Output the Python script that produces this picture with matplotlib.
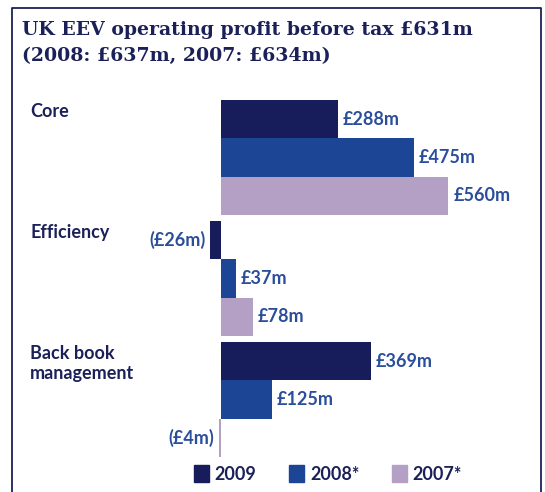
import matplotlib
matplotlib.use("Agg")
import matplotlib.pyplot as plt
from matplotlib.lines import Line2D
from matplotlib.patches import Patch

categories = ["Core", "Efficiency", "Back book\nmanagement"]
years = ["2009", "2008*", "2007*"]
v2009 = [288, -26, 369]
v2008 = [475, 37, 125]
v2007 = [560, 78, -4]
series = [v2009, v2008, v2007]

colors = ["#161d5a", "#1c4595", "#b4a0c5"]
navy = "#1b2158"
lbl_col = "#2b4e9b"
sans = ["Lato", "DejaVu Sans"]

W, H = 545, 492
fig = plt.figure(figsize=(W / 100, H / 100), dpi=100)

# frame around the panel (open at the bottom)
fig.add_artist(Line2D([12 / W, 12 / W, 541 / W, 541 / W],
                      [0, 1 - 8 / H, 1 - 8 / H, 0],
                      color=navy, lw=1.3, transform=fig.transFigure))

fig.text(22 / W, 1 - 21 / H, "UK EEV operating profit before tax £631m\n(2008: £637m, 2007: £634m)",
         fontsize=13.6, fontweight="bold", family="DejaVu Serif", color=navy,
         va="top", linespacing=1.55)

# axes placed so that zero sits at x=221px
ax_l, ax_r, ax_t, ax_b = 160, 540, 90, 462
ax = fig.add_axes([ax_l / W, 1 - ax_b / H, (ax_r - ax_l) / W, (ax_b - ax_t) / H])
scale = 0.406  # px per £m
ax.set_xlim((ax_l - 221) / scale, (ax_r - 221) / scale)
ax.set_ylim((ax_b - 157.5) / 121, (ax_t - 157.5) / 121)
ax.axis("off")

bh = 0.315
for j, vals in enumerate(series):
    for i, v in enumerate(vals):
        y = i + (j - 1) * bh
        ax.barh(y, v, height=bh, color=colors[j], linewidth=0)
        if v >= 0:
            ax.text(v + 12, y, f"£{v}m", ha="left", va="center", fontsize=13,
                    fontweight="bold", family=sans, color=lbl_col)
        else:
            ax.text(min(v, 0) - 12, y, f"(£{abs(v)}m)", ha="right", va="center", fontsize=13,
                    fontweight="bold", family=sans, color=lbl_col)

for i, c in enumerate(categories):
    fig.text(30 / W, 1 - (103 + 121 * i) / H, c, ha="left", va="top", fontsize=13,
             fontweight="bold", family=sans, color=navy, linespacing=1.25)

handles = [Patch(color=colors[j], label=years[j]) for j in range(3)]
leg = fig.legend(handles=handles, loc="center", bbox_to_anchor=(328 / W, 1 - 474 / H),
                 ncol=3, frameon=False, handlelength=0.85, handleheight=1.0,
                 handletextpad=0.3, columnspacing=1.8,
                 prop={"family": sans, "weight": "bold", "size": 13})
for t in leg.get_texts():
    t.set_color(navy)

fig.savefig("out.png", dpi=100)
